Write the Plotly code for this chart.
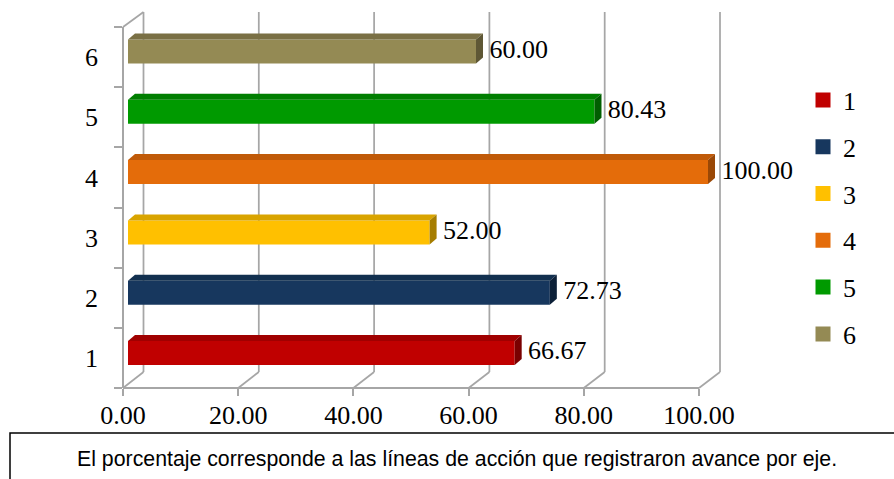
import plotly.graph_objects as go

W, H = 894, 479

categories = ['1', '2', '3', '4', '5', '6']
values = [66.67, 72.73, 52.00, 100.00, 80.43, 60.00]
front_colors = ['#C00000', '#17375E', '#FFC000', '#E46C0A', '#009A00', '#948A54']
top_colors = ['#A00000', '#12304F', '#D9A400', '#C05A08', '#007E00', '#7A7045']
side_colors = ['#7A0000', '#0C2038', '#A67D00', '#9A4806', '#005E00', '#5E5735']
x_ticks = [0, 20, 40, 60, 80, 100]
caption = "El porcentaje corresponde a las líneas de acción que registraron avance por eje."

SERIF = "Liberation Serif"
FS = 26
GRID = '#A6A6A6'


def px(x):
    return x / W


def py(y):
    return (H - y) / H


# axis geometry (pixels)
BAR_X0 = 128                   # bars: value 0
UNIT = 5.80                    # pixels per value unit for bars
BAR_RANGE = 130
FRONT_X0, FRONT_X1 = 123, 699  # front floor
BACK_X0, BACK_X1 = 143.5, 720  # back wall
FLOOR_Y, BACK_FLOOR_Y, TOP_Y = 388, 372, 12
WALL_TOP, WALL_BOT = 27, 388
ROW = 60.3                     # pixels per category
ROW1_Y = 353                   # centre of front face of bar 1
dxu = 7 / UNIT      # depth offset in value units
dyu = 6 / ROW       # depth offset in category units
bw = 24 / ROW       # bar thickness
hw = bw / 2

fig = go.Figure()

# invisible trace to activate the front axes
fig.add_trace(go.Scatter(x=[0] * len(categories), y=categories, xaxis='x2', yaxis='y2',
                         mode='markers', marker=dict(opacity=0), showlegend=False,
                         hoverinfo='skip'))

for i, (c, v) in enumerate(zip(categories, values)):
    k = i + 1
    fig.add_trace(go.Bar(x=[v], y=[k], orientation='h', width=bw, name=c, legendgroup=c,
                         marker=dict(color=front_colors[i], line=dict(width=0)),
                         showlegend=False, hoverinfo='skip'))
    fig.add_trace(go.Scatter(x=[0, v, v + dxu, dxu, 0],
                             y=[k + hw, k + hw, k + hw + dyu, k + hw + dyu, k + hw],
                             fill='toself', fillcolor=top_colors[i], mode='lines',
                             line=dict(width=0), showlegend=False, hoverinfo='skip'))
    fig.add_trace(go.Scatter(x=[v, v + dxu, v + dxu, v, v],
                             y=[k - hw, k - hw + dyu, k + hw + dyu, k + hw, k - hw],
                             fill='toself', fillcolor=side_colors[i], mode='lines',
                             line=dict(width=0), showlegend=False, hoverinfo='skip'))
    # legend entry (square swatch)
    fig.add_trace(go.Scatter(x=[None], y=[None], mode='markers', name=c, legendgroup=c,
                             marker=dict(symbol='square', size=15, color=front_colors[i]),
                             hoverinfo='skip'))

fig.add_trace(go.Scatter(x=[v + dxu + 1.1 for v in values], y=list(range(1, len(values) + 1)),
                         text=[f"{v:.2f}" for v in values], mode='text',
                         textposition='middle right', cliponaxis=False,
                         textfont=dict(family=SERIF, size=FS, color='black'),
                         showlegend=False, hoverinfo='skip'))

shapes = []


def fx(g):
    return px(FRONT_X0 + (FRONT_X1 - FRONT_X0) * g / 100.0)


def bx(g):
    return px(BACK_X0 + (BACK_X1 - BACK_X0) * g / 100.0)


for g in x_ticks:
    shapes.append(dict(type='line', xref='paper', yref='paper', x0=bx(g), x1=bx(g),
                       y0=py(BACK_FLOOR_Y), y1=py(TOP_Y), line=dict(color=GRID, width=1.75),
                       layer='below'))
    shapes.append(dict(type='line', xref='paper', yref='paper', x0=fx(g), x1=bx(g),
                       y0=py(FLOOR_Y), y1=py(BACK_FLOOR_Y), line=dict(color=GRID, width=1.75),
                       layer='below'))
# left wall top diagonal
shapes.append(dict(type='line', xref='paper', yref='paper', x0=fx(0), x1=bx(0),
                   y0=py(WALL_TOP), y1=py(TOP_Y), line=dict(color=GRID, width=1.75),
                   layer='below'))
# caption box
shapes.append(dict(type='rect', xref='paper', yref='paper', x0=px(10), x1=px(W + 20),
                   y0=py(H + 20), y1=py(433), line=dict(color='black', width=1.5),
                   fillcolor='rgba(0,0,0,0)'))

row_lo = ROW1_Y + ROW * 0.5
row_hi = ROW1_Y - ROW * 5.5

fig.update_layout(
    width=W, height=H, margin=dict(l=0, r=0, t=0, b=0, autoexpand=False),
    paper_bgcolor='white', plot_bgcolor='rgba(0,0,0,0)',
    barmode='overlay', shapes=shapes,
    xaxis=dict(domain=[px(BAR_X0), px(BAR_X0 + UNIT * BAR_RANGE)], range=[0, BAR_RANGE],
               visible=False, automargin=False),
    yaxis=dict(domain=[py(row_lo), py(row_hi)], range=[0.5, 6.5], visible=False,
               automargin=False),
    xaxis2=dict(domain=[px(FRONT_X0), px(FRONT_X1)], range=[0, 100], anchor='free',
                position=py(FLOOR_Y), tickvals=x_ticks, tickformat='.2f', automargin=False,
                showline=True, linecolor=GRID, linewidth=1.75, ticks='outside',
                ticklen=7, tickcolor=GRID, tickwidth=1.75, showgrid=False, zeroline=False,
                ticklabelstandoff=-3,
                tickfont=dict(family=SERIF, size=FS, color='black')),
    yaxis2=dict(domain=[py(WALL_BOT), py(WALL_TOP)], type='category', automargin=False,
                categoryorder='array', categoryarray=categories, range=[-0.5, 5.5],
                anchor='free',
                position=px(FRONT_X0), showline=True, linecolor=GRID, linewidth=1.75,
                ticks='outside', tickson='boundaries', ticklen=8, tickcolor=GRID,
                tickwidth=1.75, showgrid=False, zeroline=False, ticklabelstandoff=19,
                tickfont=dict(family=SERIF, size=FS, color='black')),
    legend=dict(x=px(803), y=py(217), xanchor='left', yanchor='middle',
                traceorder='grouped', tracegroupgap=10, itemwidth=30,
                font=dict(family=SERIF, size=FS, color='black'), bgcolor='rgba(0,0,0,0)'),
    annotations=[dict(x=px(457), y=py(459), xref='paper', yref='paper', text=caption,
                      showarrow=False, xanchor='center', yanchor='middle',
                      font=dict(family='Liberation Sans', size=21.3, color='black'))],
)

fig.write_html("out.html", config={'displayModeBar': False},
               post_script="document.body.style.margin='0';")
